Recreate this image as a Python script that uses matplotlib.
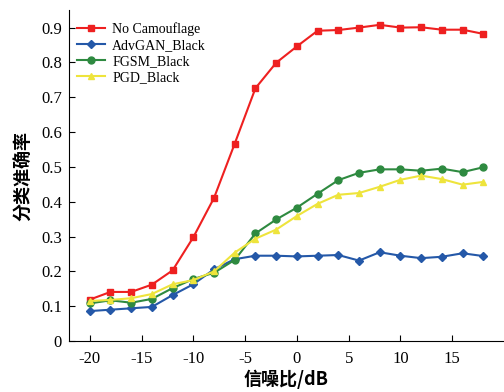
import numpy as np
import matplotlib.pyplot as plt

# données
snr = [-20, -18, -16, -14, -12, -10, -8, -6, -4, -2, 0, 2, 4, 6, 8, 10, 12, 14, 16, 18]

no_camo = [0.119, 0.141, 0.141, 0.162, 0.203, 0.298, 0.411, 0.567, 0.726, 0.799,
           0.846, 0.891, 0.893, 0.900, 0.908, 0.900, 0.901, 0.894, 0.894, 0.882]
advgan = [0.086, 0.090, 0.094, 0.098, 0.132, 0.163, 0.206, 0.235, 0.245, 0.245,
          0.243, 0.245, 0.247, 0.231, 0.255, 0.245, 0.238, 0.242, 0.252, 0.244]
fgsm = [0.108, 0.117, 0.110, 0.121, 0.152, 0.178, 0.196, 0.233, 0.309, 0.349,
        0.383, 0.423, 0.462, 0.483, 0.493, 0.493, 0.489, 0.495, 0.485, 0.499]
pgd = [0.115, 0.118, 0.123, 0.135, 0.163, 0.175, 0.200, 0.254, 0.294, 0.320,
       0.359, 0.394, 0.420, 0.425, 0.443, 0.463, 0.475, 0.465, 0.449, 0.457]

labels = ["No Camouflage", "AdvGAN_Black", "FGSM_Black", "PGD_Black"]
xticks = [-20, -15, -10, -5, 0, 5, 10, 15]
yticks = [0, 0.1, 0.2, 0.3, 0.4, 0.5, 0.6, 0.7, 0.8, 0.9]

plt.rcParams['font.family'] = ['Liberation Serif', 'Noto Sans CJK SC']
plt.rcParams['axes.unicode_minus'] = False

fig = plt.figure(figsize=(5.04, 3.92), dpi=100)
ax = fig.add_axes([0.137, 0.130, 0.863, 0.844])

ax.plot(snr, no_camo, color='#ee2020', marker='s', markersize=5, lw=1.5, label=labels[0])
ax.plot(snr, advgan, color='#2458a8', marker='D', markersize=4.5, lw=1.5, label=labels[1])
ax.plot(snr, fgsm, color='#2e8a40', marker='o', markersize=5, lw=1.5, label=labels[2])
ax.plot(snr, pgd, color='#eee43c', marker='^', markersize=5, lw=1.5, label=labels[3])

ax.set_xlim(-22, 20)
ax.set_ylim(0, 0.95)
ax.set_xticks(xticks)
ax.set_xticklabels([str(v) for v in xticks])
ax.set_yticks(yticks)
ax.set_yticklabels(["%g" % v for v in yticks])
ax.tick_params(direction='in', labelsize=12, length=4)
ax.tick_params(axis='x', pad=7)
ax.tick_params(axis='y', pad=5)
ax.spines['top'].set_visible(False)
ax.spines['right'].set_visible(False)

ax.set_xlabel("信噪比/dB", fontsize=13, fontweight='bold', labelpad=2,
              family=['Noto Sans CJK SC'])
ax.set_ylabel("分类准确率", fontsize=13, fontweight='bold', labelpad=6,
              family=['Noto Sans CJK SC'])

ax.legend(loc='upper left', frameon=False, fontsize=10, handlelength=2.0,
          handletextpad=0.5, labelspacing=0.22, borderaxespad=0.2,
          bbox_to_anchor=(0.0, 0.99))

fig.savefig("out.png", dpi=100)
